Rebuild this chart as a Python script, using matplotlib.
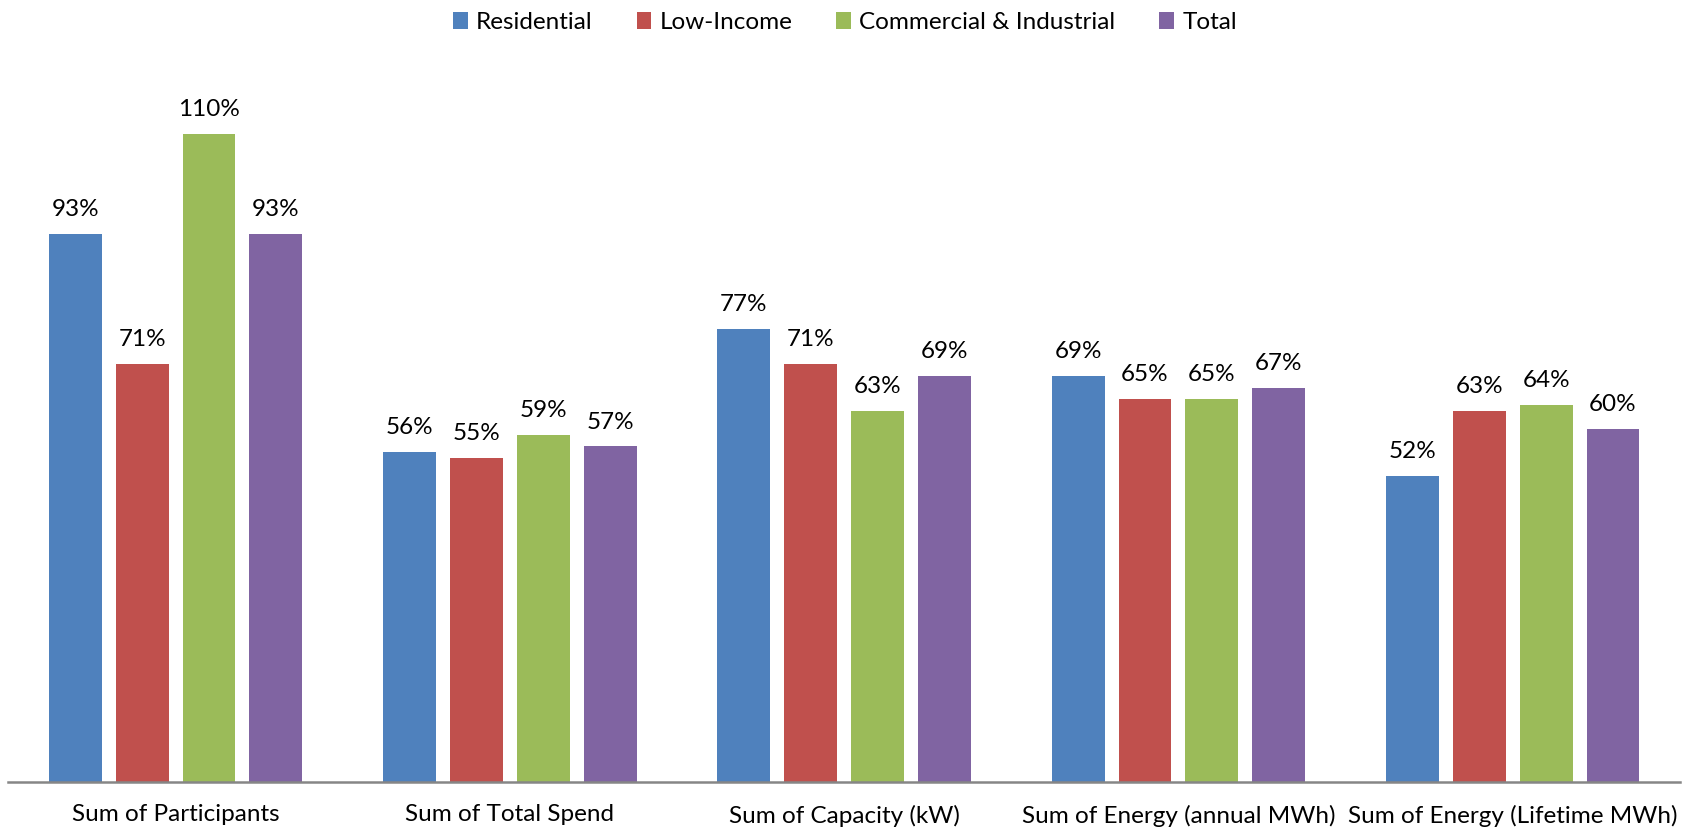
# percent of goal by sector, grouped bars

import numpy as np
import matplotlib.pyplot as plt

plt.rcParams['font.family'] = ['Lato', 'DejaVu Sans']

categories = ['Sum of Participants', 'Sum of Total Spend', 'Sum of Capacity (kW)',
              'Sum of Energy (annual MWh)', 'Sum of Energy (Lifetime MWh)']
series_names = ['Residential', 'Low-Income', 'Commercial & Industrial', 'Total']
residential = [93, 56, 77, 69, 52]
low_income = [71, 55, 71, 65, 63]
commercial = [110, 59, 63, 65, 64]
total = [93, 57, 69, 67, 60]
colors = ['#4F81BD', '#C0504D', '#9BBB59', '#8064A2']

values = [residential, low_income, commercial, total]

fig = plt.figure(figsize=(16.9, 8.33), dpi=100)
ax = fig.add_axes([0.005, 0.061, 0.989, 0.85])

x = np.arange(len(categories))
width = 0.158
for i, (name, vals, c) in enumerate(zip(series_names, values, colors)):
    pos = x + (i - 1.5) * 0.2
    bars = ax.bar(pos, vals, width, color=c, label=name)
    for b, v in zip(bars, vals):
        ax.annotate(f'{v}%', (b.get_x() + b.get_width() / 2, v),
                    xytext=(0, 10), textcoords='offset points',
                    ha='center', va='bottom', fontsize=17.5)

ax.set_xlim(-0.5, len(categories) - 0.5)
ax.set_ylim(0, 120.2)
ax.set_xticks(x)
ax.set_xticklabels(categories, fontsize=17.5)
ax.tick_params(axis='x', length=0, pad=16)
ax.set_yticks([])
for s in ['top', 'right', 'left']:
    ax.spines[s].set_visible(False)
ax.spines['bottom'].set_color('#868686')
ax.spines['bottom'].set_linewidth(1.8)

fig.legend(loc='upper center', bbox_to_anchor=(0.5, 1.012), ncol=4, frameon=False,
           fontsize=17.5, handlelength=0.6, handleheight=0.7, columnspacing=1.8,
           handletextpad=0.35)

fig.savefig('out.png')
